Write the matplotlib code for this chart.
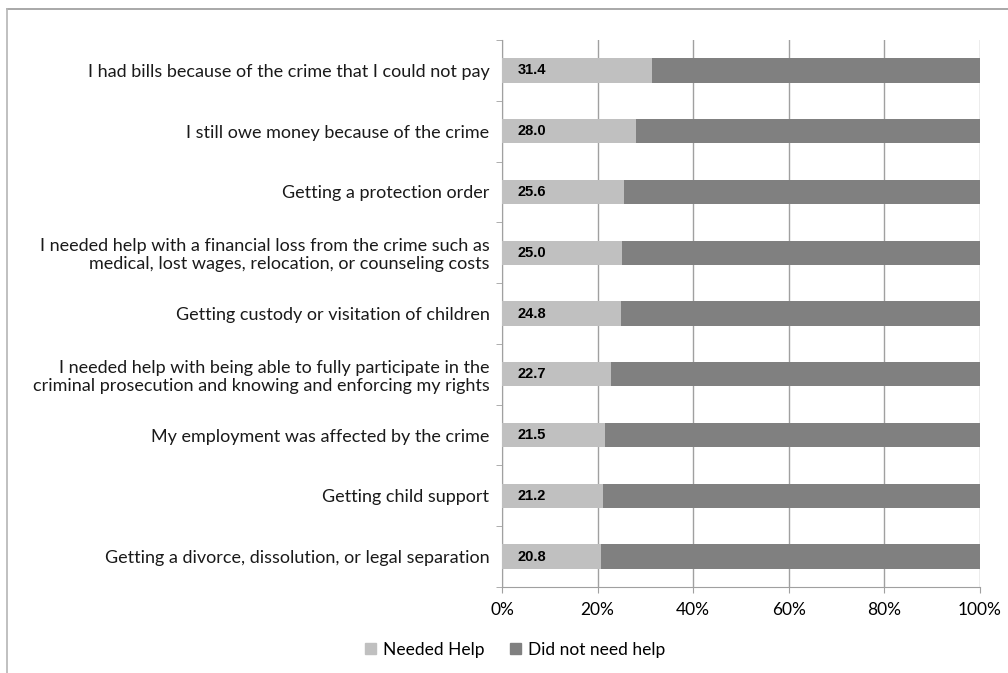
import matplotlib
matplotlib.use("Agg")
import matplotlib.pyplot as plt
from matplotlib.lines import Line2D
from matplotlib.patches import Patch
from matplotlib.ticker import FuncFormatter

categories = [
    "I had bills because of the crime that I could not pay",
    "I still owe money because of the crime",
    "Getting a protection order",
    "I needed help with a financial loss from the crime such as\nmedical, lost wages, relocation, or counseling costs",
    "Getting custody or visitation of children",
    "I needed help with being able to fully participate in the\ncriminal prosecution and knowing and enforcing my rights",
    "My employment was affected by the crime",
    "Getting child support",
    "Getting a divorce, dissolution, or legal separation",
]
needed = [31.4, 28.0, 25.6, 25.0, 24.8, 22.7, 21.5, 21.2, 20.8]
not_needed = [100 - v for v in needed]

light = "#C0C0C0"
dark = "#808080"
grid = "#A0A0A0"

plt.rcParams["font.family"] = ["Lato", "DejaVu Sans"]

fig = plt.figure(figsize=(10.08, 6.73), dpi=100)
ax = fig.add_axes([502 / 1008, 86 / 673, 478 / 1008, 547 / 673])

y = list(range(len(categories)))
ax.barh(y, needed, height=0.4, color=light, label="Needed Help", zorder=3)
ax.barh(y, not_needed, left=needed, height=0.4, color=dark, label="Did not need help", zorder=3)

for yi, v in zip(y, needed):
    ax.text(3.2, yi, "%.1f" % v, va="center", ha="left", fontsize=10.5,
            fontweight="bold", family="Liberation Sans", zorder=4)

ax.set_xlim(0, 100)
ax.set_ylim(len(categories) - 0.5, -0.5)
ax.set_xticks([0, 20, 40, 60, 80, 100])
ax.xaxis.set_major_formatter(FuncFormatter(lambda x, p: "%d%%" % x))
ax.set_yticks(y)
ax.set_yticklabels(categories, fontsize=13, color="#1a1a1a", linespacing=1.15)
ax.set_yticks([i - 0.5 for i in range(len(categories) + 1)], minor=True)
ax.tick_params(axis="y", which="major", length=0, pad=9)
ax.tick_params(axis="y", which="minor", length=4, color=grid)
ax.tick_params(axis="x", length=4, color=grid, labelsize=12.5, pad=7)
ax.grid(axis="x", color=grid, linewidth=1, zorder=0)

for s in ["top", "right"]:
    ax.spines[s].set_visible(False)
ax.spines["left"].set_color(grid)
ax.spines["bottom"].set_color(grid)

handles = [Patch(color=light), Patch(color=dark)]
fig.legend(handles, ["Needed Help", "Did not need help"], loc="center",
           bbox_to_anchor=(515 / 1008, 1 - 650 / 673), ncol=2, frameon=False,
           fontsize=12.5, handlelength=0.6, handleheight=0.6, handletextpad=0.4,
           columnspacing=1.5)

fig.add_artist(Line2D([7 / 1008, 1.0], [1 - 9 / 673, 1 - 9 / 673],
                      transform=fig.transFigure, color="#9a9a9a", linewidth=1.2))
fig.add_artist(Line2D([7 / 1008, 7 / 1008], [0, 1 - 9 / 673],
                      transform=fig.transFigure, color="#b5b5b5", linewidth=1.2))

fig.savefig("out.png", dpi=100)
